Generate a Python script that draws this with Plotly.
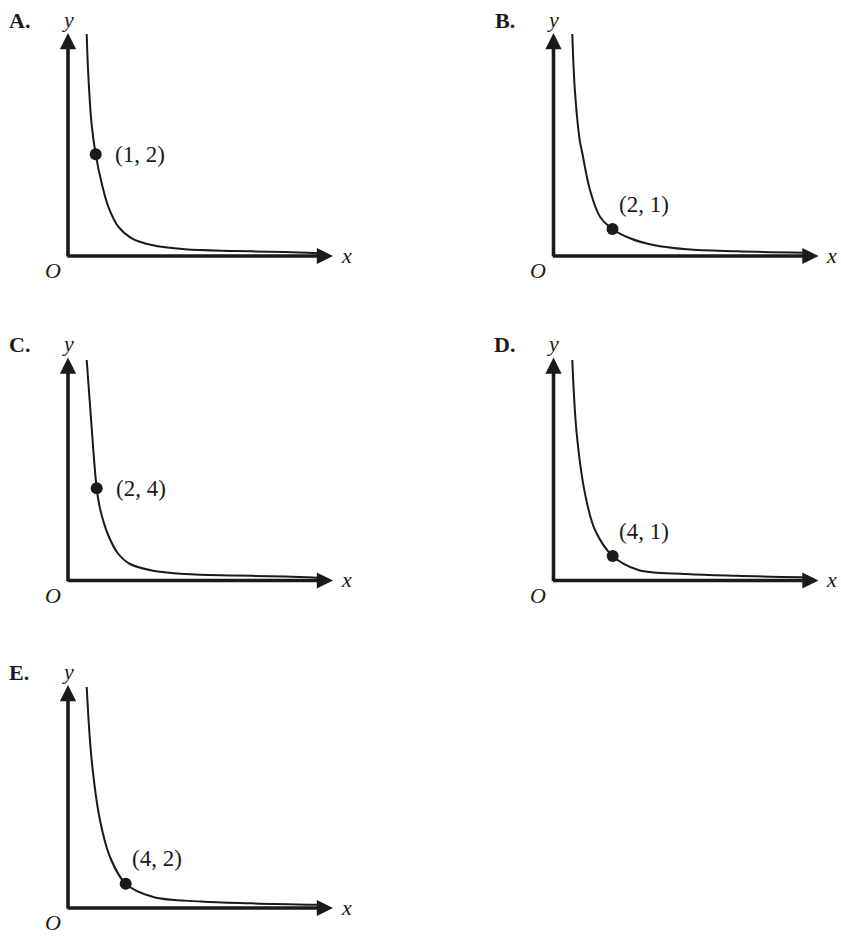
import plotly.graph_objects as go

# five multiple-choice sketches of a decreasing curve with one marked point
panels = ["A.", "B.", "C.", "D.", "E."]
point_labels = ["(1, 2)", "(2, 1)", "(2, 4)", "(4, 1)", "(4, 2)"]

# page position of each sketch's origin (px)
origin_x = [68, 553.5, 68, 553.5, 68]
origin_y = [256, 256, 580.5, 580.5, 908]

curve_a_x = [18.7, 20.3, 23.7, 27.7, 33.7, 40.3, 50.3, 63.7, 83.7, 117, 167, 217, 250]
curve_a_y = [222, 181, 131, 101.7, 72.7, 49.3, 29.3, 17.7, 11, 6.7, 5, 4, 2.7]
curve_b_x = [18.8, 21.5, 26.5, 28.2, 36.5, 46.5, 59, 76.5, 99.8, 133.2, 183.2, 249.8]
curve_b_y = [222, 164, 114, 106, 66, 39.3, 27, 17.7, 11, 6.7, 4.7, 3.3]
curve_c_x = [18.7, 25.3, 28.7, 32, 40, 50, 62, 84, 117, 167, 217, 250]
curve_c_y = [220.5, 130.5, 92.2, 72, 46, 27, 16.5, 10, 6.5, 5, 4, 2.7]
curve_d_x = [18.8, 23.2, 31.5, 41.5, 59.2, 84.8, 133, 183, 250]
curve_d_y = [220.5, 147, 87, 50.5, 24.5, 10.5, 6.5, 4.7, 3.3]
curve_e_x = [18.7, 23.7, 32, 42, 57.7, 85.3, 133, 183, 250]
curve_e_y = [221, 147.7, 87.7, 51, 24.3, 11, 6.5, 4.7, 3.3]

curves_x = [curve_a_x, curve_b_x, curve_c_x, curve_d_x, curve_e_x]
curves_y = [curve_a_y, curve_b_y, curve_c_y, curve_d_y, curve_e_y]

# the marked point on each curve
dot_x = [27.7, 59, 28.7, 59.2, 57.7]
dot_y = [101.7, 27, 92.2, 24.5, 24.3]

W, H = 841, 937
ink = "#1a1a1a"
serif = "Liberation Serif"

fig = go.Figure()
annotations = []

for i in range(len(panels)):
    n = "" if i == 0 else str(i + 1)
    xr, yr = "x" + n, "y" + n
    ox, oy = origin_x[i], origin_y[i]

    # 1 unit = 1 px, origin of the sketch at (0, 0)
    fig.update_layout(**{
        "xaxis" + n: dict(domain=[0, 1], range=[-ox, W - ox], visible=False,
                          fixedrange=True, anchor=yr),
        "yaxis" + n: dict(domain=[0, 1], range=[-(H - oy), oy], visible=False,
                          fixedrange=True, anchor=xr),
    })

    fig.add_trace(go.Scatter(x=curves_x[i], y=curves_y[i], mode="lines",
                             line=dict(color=ink, width=2, shape="spline", smoothing=1.0),
                             xaxis=xr, yaxis=yr, hoverinfo="skip"))
    fig.add_trace(go.Scatter(x=[dot_x[i]], y=[dot_y[i]], mode="markers",
                             marker=dict(color=ink, size=12),
                             xaxis=xr, yaxis=yr, hoverinfo="skip"))

    # axes with arrowheads
    for tip, tail in [((265, 0), (-2, 0)), ((0, 223), (0, -2))]:
        annotations.append(dict(x=tip[0], y=tip[1], ax=tail[0], ay=tail[1],
                                xref=xr, yref=yr, axref=xr, ayref=yr, text="",
                                showarrow=True, arrowhead=2, arrowsize=0.9,
                                arrowwidth=3.6, arrowcolor=ink, standoff=0))

    # labels
    annotations.append(dict(x=-49, y=236, xref=xr, yref=yr, text="<b>" + panels[i] + "</b>",
                            showarrow=False, font=dict(family=serif, size=22, color=ink)))
    annotations.append(dict(x=-0.5, y=237, xref=xr, yref=yr, text="<i>y</i>",
                            showarrow=False, font=dict(family=serif, size=22, color=ink)))
    annotations.append(dict(x=-15.5, y=-14.5, xref=xr, yref=yr, text="<i>O</i>",
                            showarrow=False, font=dict(family=serif, size=22, color=ink)))
    annotations.append(dict(x=278, y=1, xref=xr, yref=yr, text="<i>x</i>",
                            showarrow=False, font=dict(family=serif, size=22, color=ink)))

    # point label: to the right of the dot on the steep curves, above it otherwise
    if dot_y[i] > 60:
        lx, ly = dot_x[i] + 17, dot_y[i]
    else:
        lx, ly = dot_x[i] + 4.5, dot_y[i] + 25
    annotations.append(dict(x=lx, y=ly, xref=xr, yref=yr, text=point_labels[i],
                            xanchor="left", showarrow=False,
                            font=dict(family=serif, size=23, color=ink)))

fig.update_layout(width=W, height=H, margin=dict(l=0, r=0, t=0, b=0),
                  paper_bgcolor="white", plot_bgcolor="rgba(0,0,0,0)",
                  showlegend=False, annotations=annotations)

# drop the page's default body margin so the figure fills the window
fig.write_html("out.html", config={"displayModeBar": False},
               post_script="document.body.style.margin = '0';")
